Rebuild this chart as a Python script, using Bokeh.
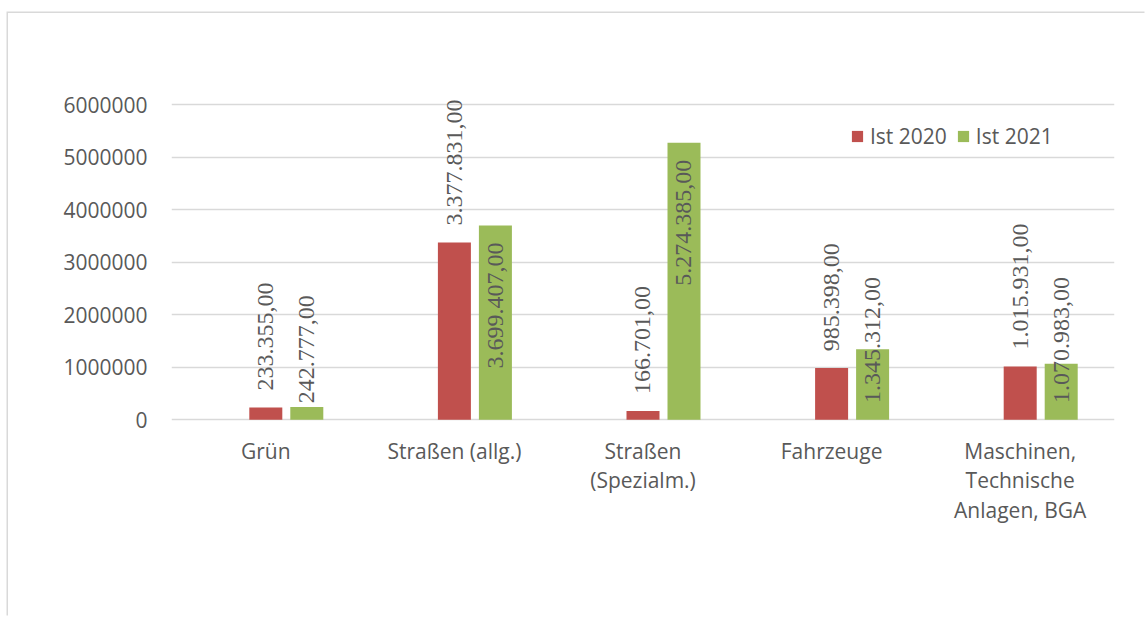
from math import pi

from bokeh.embed import file_html
from bokeh.models import (ColumnDataSource, FactorRange, Legend, LegendItem,
                          LabelSet, Range1d, SingleIntervalTicker)
from bokeh.plotting import figure
from bokeh.resources import INLINE
from bokeh.transform import dodge

# ---- data -----------------------------------------------------------------
categories = [
    "Grün",
    "Straßen (allg.)",
    "Straßen\n(Spezialm.)",
    "Fahrzeuge",
    "Maschinen,\nTechnische\nAnlagen, BGA",
]
ist_2020 = [233355, 3377831, 166701, 985398, 1015931]
ist_2021 = [242777, 3699407, 5274385, 1345312, 1070983]
series_names = ["Ist 2020", "Ist 2021"]
y_ticks = [0, 1000000, 2000000, 3000000, 4000000, 5000000, 6000000]

# ---- styling ---------------------------------------------------------------
RED = "#C0504D"
GREEN = "#9BBB59"
TEXT = "#595959"
GRID = "#D9D9D9"
FONT = "Open Sans"
FS = "21px"
FS_LABEL = "24px"

# where each value label sits: "out" above the bar top, "in" below the bar
# top, "base" just above the zero line; gap in pixels
label_mode_2020 = ["out", "out", "out", "out", "out"]
label_gap_2020 = [17, 17, 17, 17, 17]
label_mode_2021 = ["out", "in", "in", "base", "base"]
label_gap_2021 = [4, 17, 17, 17, 17]

# page offset of the chart box (its border runs along left and top)
BOX_LEFT = 8
BOX_TOP = 13


def de_format(v):
    s = f"{v:,.2f}"
    return s.replace(",", "X").replace(".", ",").replace("X", ".")


def label_rows(values, modes, gaps):
    rows = []
    for v, m, g in zip(values, modes, gaps):
        if m == "out":
            rows.append((v, g, "left"))
        elif m == "in":
            rows.append((v, -g, "right"))
        else:
            rows.append((0, g, "left"))
    return rows


src = ColumnDataSource(dict(cat=categories, v20=ist_2020, v21=ist_2021))

p = figure(
    width=1146 - BOX_LEFT, height=617 - BOX_TOP,
    x_range=FactorRange(*categories),
    y_range=Range1d(-50000, 6100000),
    output_backend="svg", toolbar_location=None,
    min_border_left=171 - BOX_LEFT, min_border_right=32,
    min_border_top=99 - BOX_TOP, min_border_bottom=195,
)
p.margin = (BOX_TOP, 0, 0, BOX_LEFT)
p.styles = {"box-shadow": f"-1.5px -1.5px 0 0 {GRID}"}
p.outline_line_color = None
p.background_fill_color = "white"
p.border_fill_color = "white"

bar_w = 0.175
off_2021 = 0.2174

r20 = p.vbar(x=dodge("cat", 0.0, range=p.x_range), top="v20", bottom=0,
             width=bar_w, source=src, fill_color=RED, line_color=None)
r21 = p.vbar(x=dodge("cat", off_2021, range=p.x_range), top="v21", bottom=0,
             width=bar_w, source=src, fill_color=GREEN, line_color=None)

# value labels, rotated, in German number format
for xoff, values, modes, gaps in [
    (0.0, ist_2020, label_mode_2020, label_gap_2020),
    (off_2021, ist_2021, label_mode_2021, label_gap_2021),
]:
    rows = label_rows(values, modes, gaps)
    for al in ("left", "right"):
        idx = [i for i, r in enumerate(rows) if r[2] == al]
        if not idx:
            continue
        sub = ColumnDataSource(dict(
            cat=[categories[i] for i in idx],
            y=[rows[i][0] for i in idx],
            off=[rows[i][1] for i in idx],
            txt=[de_format(values[i]) for i in idx],
        ))
        p.add_layout(LabelSet(
            x=dodge("cat", xoff, range=p.x_range), y="y", text="txt",
            y_offset="off", angle=pi / 2, source=sub,
            text_align=al, text_baseline="middle",
            text_font=FONT, text_font_size=FS_LABEL, text_color=TEXT,
        ))

# axes
p.yaxis.ticker = SingleIntervalTicker(interval=1000000)
p.yaxis.axis_line_color = None
p.yaxis.major_tick_line_color = None
p.yaxis.minor_tick_line_color = None
p.yaxis.major_label_standoff = 18
p.yaxis.major_label_text_font = FONT
p.yaxis.major_label_text_font_size = FS
p.yaxis.major_label_text_color = TEXT
p.yaxis.formatter.use_scientific = False

p.xaxis.axis_line_color = None
p.xaxis.major_tick_line_color = None
p.xaxis.minor_tick_line_color = None
p.xaxis.major_label_standoff = 8
p.xaxis.major_label_text_font = FONT
p.xaxis.major_label_text_font_size = FS
p.xaxis.major_label_text_color = TEXT
p.xaxis.major_label_text_line_height = 1.07

p.xgrid.grid_line_color = None
p.ygrid.grid_line_color = GRID
p.ygrid.grid_line_width = 1.5
p.ygrid.ticker = SingleIntervalTicker(interval=1000000)

# legend
legend = Legend(
    items=[LegendItem(label=series_names[0], renderers=[r20]),
           LegendItem(label=series_names[1], renderers=[r21])],
    orientation="horizontal", location=(679, 272),
    glyph_width=14, glyph_height=14, label_standoff=6, spacing=9,
    padding=0, margin=0, border_line_color=None, background_fill_alpha=0,
    label_text_font=FONT, label_text_font_size=FS, label_text_color=TEXT,
)
p.add_layout(legend)

open("out.html", "w").write(file_html(p, INLINE))
